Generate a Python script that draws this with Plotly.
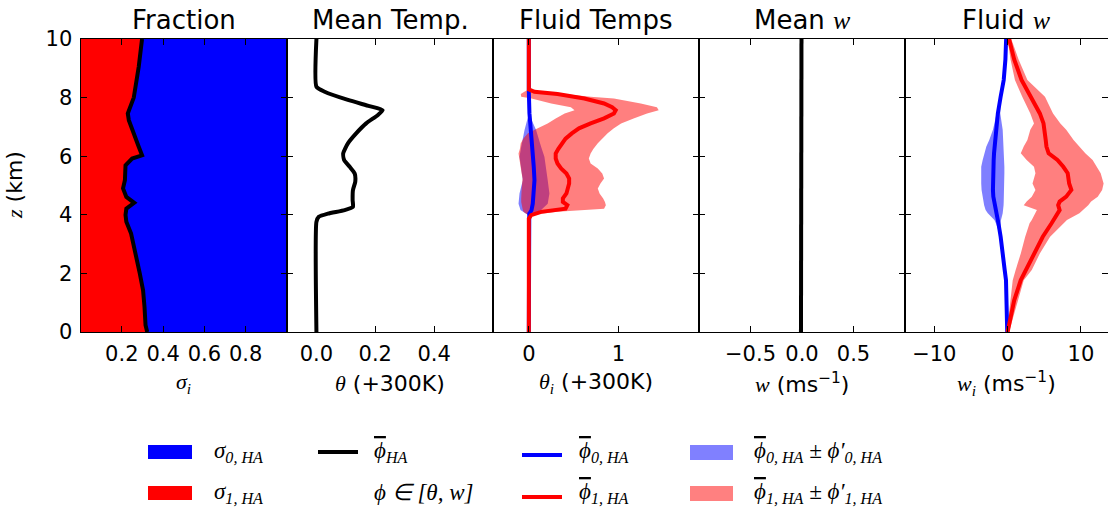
import plotly.graph_objects as go

# ---------------- data ----------------
# Panel 1: fraction
z_frac = [0, 0.23, 0.85, 1.42, 2.0, 2.68, 3.36, 3.76, 3.99, 4.21, 4.41, 4.61, 4.9, 5.18,
          5.69, 5.92, 6.03, 6.32, 6.78, 7.23, 7.46, 8.0, 9.05, 10]
sigma1 = [0.323, 0.315, 0.31, 0.303, 0.287, 0.266, 0.245, 0.222, 0.218, 0.222, 0.26, 0.222,
          0.206, 0.215, 0.218, 0.25, 0.298, 0.282, 0.258, 0.234, 0.229, 0.258, 0.282, 0.298]

# Panel 2: mean temperature
z_mean_th = [0, 3.76, 3.93, 4.04, 4.16, 4.27, 4.5, 4.84, 5.13, 5.41, 5.64, 5.87, 6.1, 6.44,
             6.78, 7.12, 7.4, 7.57, 7.71, 7.92, 8.2, 8.37, 10]
theta_mean = [0, 0, 0.008, 0.039, 0.096, 0.124, 0.123, 0.124, 0.132, 0.13, 0.113, 0.094,
              0.091, 0.107, 0.135, 0.169, 0.208, 0.225, 0.18, 0.107, 0.028, 0, 0]

# Panel 3: fluid temperatures
z_th1 = [0, 3.87, 3.99, 4.10, 4.21, 4.33, 4.44, 4.56, 4.73, 4.90, 5.07, 5.24, 5.41, 5.58,
         5.75, 5.92, 6.09, 6.25, 6.44, 6.60, 6.78, 6.95, 7.12, 7.29, 7.46, 7.57, 7.67, 7.80,
         7.97, 8.03, 8.12, 8.20, 8.28, 10]
theta1 = [0, 0, 0.026, 0.137, 0.41, 0.43, 0.38, 0.38, 0.42, 0.44, 0.45, 0.45, 0.42, 0.36,
          0.32, 0.30, 0.30, 0.33, 0.37, 0.41, 0.48, 0.56, 0.69, 0.84, 0.95, 0.97, 0.93, 0.84,
          0.62, 0.50, 0.32, 0.063, 0, 0]
theta1_hi = [0, 0, 0.03, 0.32, 0.84, 0.86, 0.85, 0.83, 0.79, 0.77, 0.80, 0.84, 0.82, 0.77,
             0.69, 0.67, 0.69, 0.72, 0.77, 0.82, 0.88, 0.95, 1.03, 1.17, 1.32, 1.45, 1.43, 1.25,
             0.95, 0.69, 0.40, 0.14, 0, 0]
theta1_lo = [0, 0, -0.01, -0.06, -0.07, -0.08, -0.085, -0.085, -0.085, -0.08, -0.075, -0.07,
             -0.08, -0.09, -0.10, -0.11, -0.115, -0.10, -0.09, -0.06, -0.01, 0.10, 0.21, 0.30,
             0.40, 0.51, 0.47, 0.25, 0.03, -0.085, -0.09, -0.05, 0, 0]

z_th0 = [0, 3.99, 4.04, 4.10, 4.16, 4.38, 4.73, 5.18, 5.64, 5.98, 6.32, 6.66, 6.89, 7.23,
         7.46, 8.2, 10]
theta0 = [0, 0, 0.005, 0.019, 0.03, 0.044, 0.056, 0.063, 0.055, 0.045, 0.033, 0.025, 0.02,
          0.012, 0.007, 0, 0]
theta0_lo = [0, 0, -0.03, -0.06, -0.093, -0.115, -0.104, -0.067, -0.085, -0.104, -0.085,
             -0.067, -0.048, -0.019, 0.007, 0, 0]
theta0_hi = [0, 0, 0.044, 0.1, 0.137, 0.211, 0.23, 0.211, 0.193, 0.174, 0.137, 0.1, 0.081,
             0.033, 0.007, 0, 0]

# Panel 4: mean w
z_mean_w = [0, 2.5, 5, 7.5, 10]
w_mean = [-0.01, -0.009, -0.007, -0.006, -0.005]

# Panel 5: fluid w
z_w = [0, 1.08, 1.77, 2.12, 2.68, 3.25, 3.71, 3.82, 4.05, 4.16, 4.33, 4.45, 4.62, 4.85,
       5.07, 5.42, 5.64, 5.87, 6.1, 6.33, 6.55, 6.9, 7.12, 7.46, 8.03, 8.6, 9.3, 10]
w1 = [0.0, 0.9, 1.8, 2.5, 3.55, 4.8, 6.0, 6.3, 6.9, 7.1, 6.9, 7.1, 8.0, 8.7, 8.4, 8.2, 7.6,
      6.8, 5.6, 5.3, 5.2, 5.1, 4.9, 4.4, 3.1, 1.9, 0.9, 0.2]
w1_hi = [0.2, 1.4, 2.2, 3.3, 4.4, 5.8, 7.6, 8.1, 9.8, 10.3, 11.0, 11.4, 12.3, 12.9, 13.1,
         12.7, 12.2, 11.6, 10.6, 9.8, 9.0, 8.0, 7.2, 6.2, 5.1, 2.7, 1.5, 0.5]
w1_lo = [-0.1, 0.45, 0.7, 1.1, 1.8, 2.4, 3.0, 3.3, 3.8, 4.0, 2.2, 2.6, 3.3, 3.8, 3.4, 3.8,
         3.6, 2.6, 1.8, 2.2, 2.7, 3.1, 3.6, 3.1, 2.0, 1.0, 0.4, 0.0]
w0 = [-0.05, -0.12, -0.22, -0.4, -0.65, -0.95, -1.25, -1.33, -1.55, -1.65, -1.8, -1.85,
      -1.95, -2.0, -2.0, -2.0, -1.95, -1.9, -1.85, -1.78, -1.7, -1.55, -1.45, -1.33, -0.95,
      -0.53, -0.3, -0.2]
w0_lo = [-0.05, -0.12, -0.22, -0.4, -0.65, -0.95, -1.6, -1.8, -2.7, -3.0, -3.2, -3.3, -3.45,
         -3.55, -3.6, -3.6, -3.6, -3.4, -3.2, -2.9, -2.5, -2.0, -1.8, -1.5, -0.95, -0.53,
         -0.3, -0.2]
w0_hi = [-0.05, -0.12, -0.22, -0.4, -0.65, -0.95, -0.95, -0.9, -0.67, -0.6, -0.55, -0.53,
         -0.5, -0.45, -0.44, -0.44, -0.44, -0.47, -0.5, -0.53, -0.6, -0.67, -0.8, -1.0,
         -0.95, -0.53, -0.3, -0.2]

# axes / ticks
panel_titles = ["Fraction", "Mean Temp.", "Fluid Temps", "Mean <i>w</i>", "Fluid <i>w</i>"]
x_ranges = [[0, 1], [-0.1, 0.6], [-0.4, 1.9], [-1, 1], [-14, 13.7]]
x_tickvals = [[0.2, 0.4, 0.6, 0.8], [0.0, 0.2, 0.4], [0, 1], [-0.5, 0.0, 0.5], [-10, 0, 10]]
x_ticktext = [["0.2", "0.4", "0.6", "0.8"], ["0.0", "0.2", "0.4"], ["0", "1"],
              ["\u22120.5", "0.0", "0.5"], ["\u221210", "0", "10"]]
y_tickvals = [0, 2, 4, 6, 8, 10]

# ---------------- figure ----------------
W, H = 1108, 515
BLUE, RED = "#0000ff", "#ff0000"
BLUE_A, RED_A = "rgba(0,0,255,0.5)", "rgba(255,0,0,0.5)"
LW = 4

fig = go.Figure()

def add(tr, i):
    tr.update(xaxis="x" if i == 1 else f"x{i}", yaxis="y" if i == 1 else f"y{i}",
              showlegend=False, hoverinfo="skip")
    fig.add_trace(tr)

# panel 1
sigma0 = [1 - s for s in sigma1]
add(go.Scatter(x=sigma1, y=z_frac, mode="lines", line=dict(width=0, color=RED),
               fill="tozerox", fillcolor=RED), 1)
add(go.Scatter(x=[a + b for a, b in zip(sigma1, sigma0)], y=z_frac, mode="lines",
               line=dict(width=0, color=BLUE), fill="tonextx", fillcolor=BLUE), 1)
add(go.Scatter(x=sigma1, y=z_frac, mode="lines", line=dict(width=LW, color="black")), 1)

# panel 2
add(go.Scatter(x=theta_mean, y=z_mean_th, mode="lines",
               line=dict(width=LW, color="black", shape="spline", smoothing=0.5)), 2)

# panel 3
add(go.Scatter(x=theta0_lo, y=z_th0, mode="lines", line=dict(width=0)), 3)
add(go.Scatter(x=theta0_hi, y=z_th0, mode="lines", line=dict(width=0), fill="tonextx",
               fillcolor=BLUE_A), 3)
add(go.Scatter(x=theta1_lo, y=z_th1, mode="lines", line=dict(width=0)), 3)
add(go.Scatter(x=theta1_hi, y=z_th1, mode="lines", line=dict(width=0), fill="tonextx",
               fillcolor=RED_A), 3)
add(go.Scatter(x=theta0, y=z_th0, mode="lines", line=dict(width=LW, color=BLUE)), 3)
add(go.Scatter(x=theta1, y=z_th1, mode="lines", line=dict(width=LW, color=RED)), 3)

# panel 4
add(go.Scatter(x=w_mean, y=z_mean_w, mode="lines", line=dict(width=LW, color="black")), 4)

# panel 5
add(go.Scatter(x=w0_lo, y=z_w, mode="lines", line=dict(width=0)), 5)
add(go.Scatter(x=w0_hi, y=z_w, mode="lines", line=dict(width=0), fill="tonextx",
               fillcolor=BLUE_A), 5)
add(go.Scatter(x=w1_lo, y=z_w, mode="lines", line=dict(width=0)), 5)
add(go.Scatter(x=w1_hi, y=z_w, mode="lines", line=dict(width=0), fill="tonextx",
               fillcolor=RED_A), 5)
add(go.Scatter(x=w0, y=z_w, mode="lines", line=dict(width=LW, color=BLUE)), 5)
add(go.Scatter(x=w1, y=z_w, mode="lines", line=dict(width=LW, color=RED)), 5)

# layout of panels (pixel geometry)
px_edges = [80.5, 287, 493, 699, 905, 1108]
top_px, bot_px = 39, 332
TICKFONT = dict(family="DejaVu Sans", size=21, color="black")
layout = dict(width=W, height=H, margin=dict(l=0, r=0, t=0, b=0, autoexpand=False),
              paper_bgcolor="white", plot_bgcolor="white", showlegend=False)
for i in range(5):
    sfx = "" if i == 0 else str(i + 1)
    layout["xaxis" + sfx] = dict(
        domain=[px_edges[i] / W, px_edges[i + 1] / W], range=x_ranges[i],
        anchor="y" + sfx, tickmode="array", tickvals=x_tickvals[i], ticktext=x_ticktext[i],
        ticks="inside", ticklen=6, tickwidth=1, tickcolor="black", mirror="allticks",
        showline=True, linecolor="black", linewidth=1, showgrid=False, zeroline=False,
        tickfont=TICKFONT, ticklabelstandoff=3, fixedrange=True, automargin=False)
    layout["yaxis" + sfx] = dict(
        domain=[1 - bot_px / H, 1 - top_px / H], range=[0, 10], anchor="x" + sfx,
        tickmode="array", tickvals=y_tickvals, ticks="inside", ticklen=6, tickwidth=1,
        tickcolor="black", mirror="allticks", showline=True, linecolor="black",
        linewidth=1, showgrid=False, zeroline=False, showticklabels=(i == 0),
        tickfont=TICKFONT, ticklabelstandoff=3, fixedrange=True, automargin=False)
fig.update_layout(**layout)

SERIF = "Liberation Serif"

def m(s):
    return f'<span style="font-family:{SERIF}"><i>{s}</i></span>'

def ann(text, x, y, size=20, xanchor="center", yanchor="middle", angle=0, family="DejaVu Sans"):
    fig.add_annotation(text=text, x=x / W, y=1 - y / H, xref="paper", yref="paper",
                       showarrow=False, xanchor=xanchor, yanchor=yanchor, textangle=angle,
                       font=dict(family=family, size=size, color="black"))

# panel titles
for i, t in enumerate(panel_titles):
    cx = (px_edges[i] + min(px_edges[i + 1], px_edges[i] + 206)) / 2
    t = t.replace("<i>w</i>", m("w"))
    ann(t, cx, 20, size=26)

# axis titles
ax_titles = [m("σ<sub>i</sub>"), m("θ") + " (+300K)", m("θ<sub>i</sub>") + " (+300K)",
             m("w") + " (ms<sup>\u22121</sup>)", m("w<sub>i</sub>") + " (ms<sup>\u22121</sup>)"]
for i, t in enumerate(ax_titles):
    cx = (px_edges[i] + min(px_edges[i + 1], px_edges[i] + 206)) / 2
    ann(t, cx, 383, size=22)
ann(m("z") + " (km)", 14, 185, size=22, angle=-90)

# legend (drawn manually)
def box(x0, y0, x1, y1, color):
    fig.add_shape(type="rect", xref="paper", yref="paper", x0=x0 / W, x1=x1 / W,
                  y0=1 - y1 / H, y1=1 - y0 / H, fillcolor=color, line=dict(width=0))

def seg(x0, x1, y, color):
    fig.add_shape(type="line", xref="paper", yref="paper", x0=x0 / W, x1=x1 / W,
                  y0=1 - y / H, y1=1 - y / H, line=dict(color=color, width=LW))

LEG = 23
phibar = '<span style="text-decoration:overline">\u03d5</span>'
phi = "\u03d5"
box(148, 445, 192, 459, BLUE)
ann(m("σ<sub>0, HA</sub>"), 212, 452, size=LEG, xanchor="left", family=SERIF)
box(148, 486, 192, 500, RED)
ann(m("σ<sub>1, HA</sub>"), 212, 493, size=LEG, xanchor="left", family=SERIF)
seg(318, 358, 452, "black")
ann(m(phibar + "<sub>HA</sub>"), 372, 452, size=LEG, xanchor="left", family=SERIF)
ann(m(phi + " ∈ [θ, w]"), 372, 492, size=LEG, xanchor="left", family=SERIF)
seg(522, 562, 455, BLUE)
ann(m(phibar + "<sub>0, HA</sub>"), 577, 452, size=LEG, xanchor="left", family=SERIF)
seg(522, 562, 497, RED)
ann(m(phibar + "<sub>1, HA</sub>"), 577, 493, size=LEG, xanchor="left", family=SERIF)
box(690, 445, 733, 460, "#8080ff")
ann(m(phibar + "<sub>0, HA</sub> ± " + phi + "\u2032<sub>0, HA</sub>"), 752, 452, size=LEG,
    xanchor="left", family=SERIF)
box(690, 486, 733, 501, "#ff8080")
ann(m(phibar + "<sub>1, HA</sub> ± " + phi + "\u2032<sub>1, HA</sub>"), 752, 493, size=LEG,
    xanchor="left", family=SERIF)

fig.write_html("out.html")
